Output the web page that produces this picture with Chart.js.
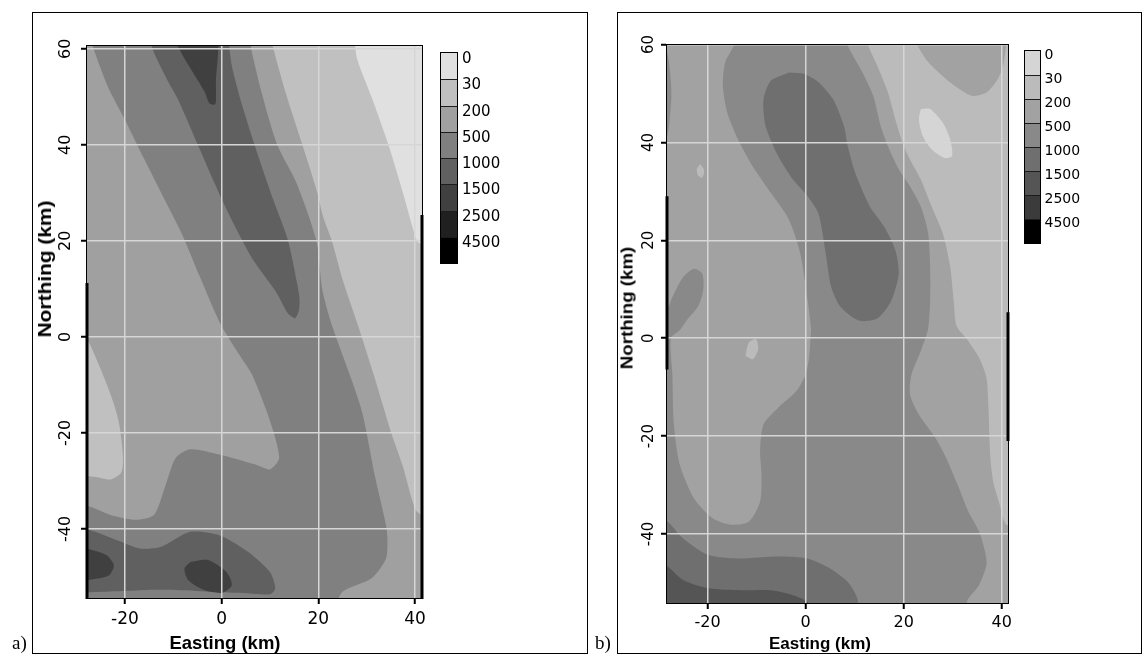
<!DOCTYPE html>
<html>
<head>
<meta charset="utf-8">
<title>Contour maps a) and b)</title>
<script src="https://cdn.jsdelivr.net/npm/chart.js"></script>
<style>
    body { margin: 0; background: #fff; }
    #page { position: relative; width: 1148px; height: 655px; overflow: hidden; }
    .panel { position: absolute; border: 1px solid #000; }
    canvas { position: absolute; }
    .bar { position: absolute; border: 1px solid #000; }
    .cell { box-sizing: border-box; }
    .lvl { position: absolute; font-family: 'DejaVu Sans', sans-serif; color: #000; white-space: nowrap; }
    .title { position: absolute; font-family: 'Liberation Sans', Arial, sans-serif; font-weight: bold; white-space: nowrap; line-height: 1; color: #000; }
    .tag { position: absolute; font-family: 'Liberation Serif', 'Times New Roman', serif; font-size: 19px; line-height: 19px; }
</style>
</head>
<body>
<div id="page">
    <div class="panel" style="left:32px; top:12px; width:554px; height:640px;"></div>
    <div class="panel" style="left:617px; top:12px; width:523px; height:640px;"></div>
    <canvas id="chartA" width="553" height="639" style="left:33px; top:13px;"></canvas>
    <canvas id="chartB" width="522" height="639" style="left:618px; top:13px;"></canvas>

    <div class="title" style="left:45px; top:269px; font-size:18px; transform:translate(-50%,-50%) rotate(-90deg) scaleX(1.16);">Northing (km)</div>
    <div class="title" style="left:125px; top:634px; width:200px; text-align:center; font-size:18.5px;">Easting (km)</div>
    <div class="title" style="left:627px; top:308px; font-size:17px; transform:translate(-50%,-50%) rotate(-90deg) scaleX(1.1);">Northing (km)</div>
    <div class="title" style="left:720px; top:635px; width:200px; text-align:center; font-size:17px;">Easting (km)</div>

    <div class="tag" style="left:12px; top:633px;">a)</div>
    <div class="tag" style="left:595px; top:633px;">b)</div>
</div>

<script>
// contour classes, lightest first
const levelLabels = ['0', '30', '200', '500', '1000', '1500', '2500', '4500'];
const greysA = ['#e0e0e0', '#c0c0c0', '#a0a0a0', '#808080', '#606060', '#404040', '#202020', '#000000'];
const greysB = ['#d5d5d5', '#bbbbbb', '#a2a2a2', '#898989', '#6f6f6f', '#555555', '#3b3b3b', '#000000'];

const xTicks = [-20, 0, 20, 40];
const yTicks = [-40, -20, 0, 20, 40, 60];

const xRangeA = [-28.07, 41.66];
const yRangeA = [-54.6, 60.8];
const xRangeB = [-28.5, 41.5];
const yRangeB = [-54.3, 60.1];

// heavy black stretches on the map edges: [easting, northing from, northing to]
const edgeBarsA = [[-28.07, 11.2, -54.6], [41.66, 25.4, -54.6]];
const edgeBarsB = [[-28.5, 29, -6.4], [41.5, 5.3, -21]];

// panel a outlines (Easting, Northing in km), points past the frame are clipped
const aBase = [[-31, -57], [44, -57], [44, 63], [-31, 63]];
const a30Right = [[10.2, 63], [10.7, 60], [13.5, 50], [16.7, 40], [18.6, 34], [19.8, 30], [21, 25], [22.8, 20], [25, 12], [28.5, 1.5], [31.5, -8], [35.1, -20], [37.5, -27], [39.3, -33.6], [40.5, -36.5], [44, -38], [44, 63]];
const a30Left = [[-31, -0.2], [-28, -0.5], [-26.4, -3.5], [-23.8, -9.8], [-22.3, -14], [-21.2, -18.2], [-20.4, -25.2], [-20.8, -28.3], [-23, -29.7], [-26, -29.2], [-28, -29], [-31, -29]];
const a0 = [[27.4, 63], [28, 58], [31, 50], [34.5, 40], [37.5, 30], [40.2, 20.5], [41, 19.5], [44, 19], [44, 63]];
const a500 = [[-27.2, 63], [-26.5, 60], [-23.5, 52], [-20, 45.2], [-16, 37], [-12, 29], [-8.3, 21.6], [-4.5, 12.5], [-0.3, 2.8], [3.5, -3.5], [6.2, -7.7], [10, -17.5], [11.9, -25.2], [10, -27.6], [7, -26.6], [-0.5, -24.5], [-6.5, -23.4], [-9.5, -25.2], [-11.8, -31.5], [-14, -37.1], [-17.8, -38.1], [-23, -37.1], [-27.5, -35.3], [-31, -35], [-31, -57], [22.5, -57], [25, -53.1], [31, -50.3], [34, -46.2], [34.3, -42], [34, -39.2], [31.8, -29.4], [28.8, -14.7], [22.7, 2.8], [20.8, 10], [19.6, 20], [15.5, 32], [11.5, 40], [8.5, 50], [6.1, 60], [5.8, 63]];
const a1000Top = [[-14.6, 63], [-14.3, 60], [-11.5, 54], [-9, 49.4], [-4.8, 39.7], [0.1, 28.5], [3, 22.5], [6.1, 16.7], [9, 12.5], [11.4, 9.1], [13.7, 4.9], [15.2, 3.9], [16, 5.6], [16.1, 8], [15.6, 11.2], [13.7, 20.2], [10.7, 28.5], [6.9, 39.7], [3.9, 49.4], [2.2, 56], [1.6, 60], [1.4, 63]];
const a1000Bottom = [[-31, -40], [-27.5, -40.2], [-20.8, -42.7], [-17, -44.1], [-12.5, -43.7], [-6.5, -40.6], [-0.5, -41.3], [5.5, -44.8], [10, -49], [11.1, -52.4], [10, -53.6], [5, -53.4], [-0.5, -53.2], [-8, -52.8], [-15.5, -52.7], [-22, -53], [-27.5, -53.2], [-31, -53.2]];
const a1500Top = [[-9.3, 63], [-9, 60.5], [-6.5, 56], [-3.5, 51], [-2.5, 48.6], [-1.3, 48.5], [-1.2, 53], [-1.2, 63]];
const a1500Left = [[-31, -44], [-28, -44.1], [-23.8, -45.5], [-22.3, -47.6], [-23.4, -49.7], [-28, -50.7], [-31, -50.7]];
const a1500Mid = [[-6.5, -46.9], [-2.8, -46.5], [1, -49], [2.1, -51.7], [0.2, -53.3], [-3.5, -52.8], [-6.9, -50.7], [-7.7, -48.3]];

// panel b outlines
const bBase = [[-31, -57], [44, -57], [44, 63], [-31, 63]];
const b30 = [[12.5, 63], [12.7, 60], [14.6, 55.7], [16.8, 50.2], [18.3, 44.7], [19.8, 39.9], [21.3, 36.5], [23.5, 32.4], [25.7, 26.9], [28, 21.4], [29.5, 14.6], [30.2, 7.7], [30.8, 2.5], [33, -0.3], [35.4, -4], [36.9, -8.1], [37.3, -14.2], [37.7, -24.5], [38.4, -29.9], [39.6, -34], [40.3, -36.8], [41, -38.1], [44, -39], [44, 63]];
const b200TopRight = [[22.6, 63], [22.8, 60], [25, 56.4], [28.7, 52.9], [31.5, 50.8], [34, 49.5], [36.9, 50.2], [39.2, 52.9], [40.3, 55.7], [40.8, 59], [41, 63]];
const b0 = [[23.5, 46.8], [25.4, 46.8], [28, 44], [29.5, 40.6], [29.9, 37.2], [28.4, 36.8], [25.7, 38.6], [23.9, 41.3], [23.1, 44.7]];
const b30DotLeft = [[-21.5, 35.6], [-20.7, 34.3], [-21.1, 32.8], [-22, 33.3], [-22.2, 34.6]];
const b30DotMid = [[-12.3, -3.6], [-11.6, -0.9], [-10.1, -0.2], [-9.7, -2.3], [-10.8, -4.3]];
const b500 = [[-14.8, 63], [-14.6, 60], [-16.4, 56.4], [-16.9, 51.6], [-16, 46.1], [-13.8, 40.6], [-10.8, 35.1], [-7.1, 29.7], [-3.4, 24.2], [-1.1, 17.3], [0.4, 7.7], [1.1, 2], [1, 0.1], [0.7, -4], [0, -7.4], [-1.9, -10.8], [-5.6, -14.2], [-8.6, -17.6], [-9.3, -23.1], [-9, -27.9], [-9.3, -33.4], [-11.6, -37.5], [-15.3, -38.1], [-19, -36.8], [-22.8, -32.7], [-25.7, -25.8], [-26.9, -17.6], [-27.2, -7.4], [-27.5, 0], [-25.7, 1.6], [-24.3, 3.6], [-22, 6.4], [-20.9, 9.8], [-21.1, 13.2], [-22.8, 14.2], [-25, 12.5], [-27.2, 8.4], [-28.3, 6], [-31, 5], [-31, -57], [31.5, -57], [33.2, -53.2], [35.4, -50.4], [36.9, -46.3], [36.6, -43.6], [35.4, -39.5], [33.2, -35.4], [31, -29.9], [28.7, -24.5], [26.5, -20.4], [23.1, -15.6], [21.3, -11.5], [21.6, -7.4], [23.5, -2.6], [25, 2], [25.4, 7.7], [25.4, 14.6], [25, 21.4], [23.5, 26.9], [21.3, 31], [19, 34.5], [16.8, 39.2], [15.3, 43.4], [13.8, 49.5], [11.6, 54.3], [8.6, 59.8], [8.2, 63]];
const b500LeftEdge = [[-31, 60], [-28.6, 59.1], [-27.8, 55.7], [-27.4, 50.2], [-27.8, 44], [-28.6, 40.6], [-31, 40]];
const b1000Core = [[-3.4, 54.3], [-0.4, 54], [2.6, 52.3], [5.6, 48.8], [7.8, 43.4], [8.6, 39.2], [10.1, 33.8], [13.1, 26.9], [16, 22.8], [18.3, 18], [19, 13.2], [17.5, 7.7], [14.6, 4], [10.8, 3.6], [7.1, 6.4], [5.2, 10.5], [4.1, 17.3], [2.6, 25.5], [0.4, 29], [-2.6, 32.4], [-5.6, 37.2], [-8.2, 43.4], [-8.6, 48.8], [-7.1, 52.6]];
const b1000Bottom = [[-31, -37], [-28.6, -37.1], [-25, -40.9], [-19.8, -44.3], [-13.8, -45], [-5.6, -44.6], [0.4, -45], [4.9, -47], [8.6, -49.8], [10.3, -52.5], [10.8, -54.3], [11.2, -57], [-31, -57]];
const b1500 = [[-31, -46], [-28.6, -46.3], [-25, -49.4], [-19.8, -51.1], [-13.1, -51.5], [-7.1, -51.5], [-2.6, -52.5], [0.5, -54], [1.5, -57], [-31, -57]];

// [class index, outline] painted in this order
const regionsA = [[2, aBase], [1, a30Right], [1, a30Left], [0, a0], [3, a500], [4, a1000Top], [4, a1000Bottom], [5, a1500Top], [5, a1500Left], [5, a1500Mid]];
const regionsB = [[2, bBase], [1, b30], [2, b200TopRight], [0, b0], [1, b30DotLeft], [1, b30DotMid], [3, b500], [3, b500LeftEdge], [4, b1000Core], [4, b1000Bottom], [5, b1500]];

const framePlugin = {
    id: 'frame',
    afterDraw(chart, args, opts) {
        const { ctx, chartArea: a, scales: { x, y } } = chart;
        ctx.save();
        ctx.strokeStyle = '#000';
        ctx.lineWidth = 1;
        ctx.strokeRect(a.left + 0.5, a.top + 0.5, a.width - 1, a.height - 1);
        // heavier edge stretches
        ctx.lineWidth = 3;
        (opts.bars || []).forEach(([ex, y0, y1]) => {
            const px = Math.round(x.getPixelForValue(ex)) + (ex > 0 ? -1 : 1);
            ctx.beginPath();
            ctx.moveTo(px, y.getPixelForValue(y0));
            ctx.lineTo(px, y.getPixelForValue(y1));
            ctx.stroke();
        });
        ctx.restore();
    }
};

function buildDatasets(regions, greys) {
    return regions.map(([cls, pts], i) => ({
        data: pts.concat([pts[0]]).map(([x, y]) => ({ x, y })),
        showLine: true,
        fill: 'shape',
        backgroundColor: greys[cls],
        borderWidth: 0,
        pointRadius: 0,
        tension: pts.length > 4 ? 0.25 : 0,
        order: regions.length - i
    }));
}

function makeChart(canvasId, regions, greys, xRange, yRange, bars, box) {
    const grid = { color: '#d6d6d6', lineWidth: 1.5, tickLength: 5, tickColor: '#000', tickWidth: 2, z: 1 };
    return new Chart(document.getElementById(canvasId), {
        type: 'scatter',
        data: { datasets: buildDatasets(regions, greys) },
        plugins: [framePlugin],
        options: {
            responsive: false,
            devicePixelRatio: 1,
            animation: false,
            events: [],
            layout: { autoPadding: false, padding: { top: box.top, right: box.right, left: 0, bottom: 0 } },
            elements: { line: { capBezierPoints: false } },
            plugins: { legend: { display: false }, tooltip: { enabled: false }, frame: { bars: bars } },
            scales: {
                x: {
                    type: 'linear',
                    min: xRange[0],
                    max: xRange[1],
                    afterBuildTicks: s => { s.ticks = xTicks.map(v => ({ value: v })); },
                    afterFit: s => { s.height = box.xAxisHeight; },
                    border: { display: false },
                    grid: grid,
                    ticks: {
                        autoSkip: false,
                        maxRotation: 0,
                        padding: box.xPad,
                        color: '#000',
                        font: { family: 'DejaVu Sans', size: box.xFont },
                        callback: v => String(v)
                    }
                },
                y: {
                    type: 'linear',
                    min: yRange[0],
                    max: yRange[1],
                    afterBuildTicks: s => { s.ticks = yTicks.map(v => ({ value: v })); },
                    afterFit: s => { s.width = box.yAxisWidth; },
                    border: { display: false },
                    grid: grid,
                    ticks: {
                        autoSkip: false,
                        minRotation: 90,
                        maxRotation: 90,
                        crossAlign: 'center',
                        padding: box.yPad,
                        color: '#000',
                        font: { family: 'DejaVu Sans', size: box.yFont },
                        callback: v => String(v)
                    }
                }
            }
        }
    });
}

function buildColourBar(greys, pos) {
    const page = document.getElementById('page');
    const bar = document.createElement('div');
    bar.className = 'bar';
    bar.style.left = pos.left + 'px';
    bar.style.top = pos.top + 'px';
    bar.style.width = pos.width + 'px';
    greys.forEach((g, i) => {
        const cell = document.createElement('div');
        cell.className = 'cell';
        cell.style.height = pos.cellH + 'px';
        cell.style.background = g;
        if (i > 0) cell.style.borderTop = '1px solid #1c1c1c';
        bar.appendChild(cell);

        const lbl = document.createElement('div');
        lbl.className = 'lvl';
        lbl.textContent = levelLabels[i];
        lbl.style.left = pos.labelLeft + 'px';
        lbl.style.top = (pos.top + 1 + i * pos.cellH + pos.labelShift) + 'px';
        lbl.style.fontSize = pos.font + 'px';
        lbl.style.lineHeight = pos.font + 'px';
        page.appendChild(lbl);
    });
    page.appendChild(bar);
}

makeChart('chartA', regionsA, greysA, xRangeA, yRangeA, edgeBarsA,
    { top: 32, right: 163, yAxisWidth: 53, xAxisHeight: 53, xPad: 5, yPad: 2, xFont: 17, yFont: 16 });
makeChart('chartB', regionsB, greysB, xRangeB, yRangeB, edgeBarsB,
    { top: 31, right: 131, yAxisWidth: 48, xAxisHeight: 48, xPad: 4, yPad: 0, xFont: 16, yFont: 15 });

buildColourBar(greysA, { left: 440, top: 52, width: 16, cellH: 26.25, labelLeft: 462, labelShift: -2, font: 15 });
buildColourBar(greysB, { left: 1024, top: 50, width: 15, cellH: 24, labelLeft: 1044.5, labelShift: -4, font: 14 });
</script>
</body>
</html>
